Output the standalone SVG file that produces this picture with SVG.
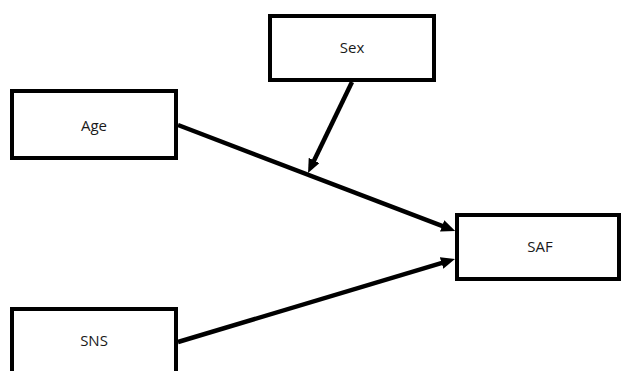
<svg xmlns="http://www.w3.org/2000/svg" width="621" height="371" viewBox="0 0 621 371">
<style>
.box{fill:#fff;stroke:#000;stroke-width:4}
.lbl{font-family:"Open Sans","Liberation Sans",sans-serif;font-size:15px;fill:#1a1a1a;text-anchor:middle}
.edge{stroke:#000;stroke-width:4.5;fill:none;marker-end:url(#ah)}
</style>
<defs>
<marker id="ah" markerUnits="userSpaceOnUse" markerWidth="14" markerHeight="12" refX="4" refY="6" orient="auto" viewBox="0 0 14 12">
<path d="M0,0 L14,6 L0,12 z" fill="#000"/>
</marker>
</defs>
<rect width="621" height="371" fill="#fff"/>
<g id="connectors">
<line class="edge" x1="178" y1="125" x2="445.9" y2="227.4"/>
<line class="edge" x1="352" y1="82" x2="312.4" y2="164"/>
<line class="edge" x1="178" y1="342" x2="445.4" y2="261.9"/>
</g>
<g id="sex"><rect class="box" x="270" y="16" width="164" height="64"/><text class="lbl" x="352" y="53">Sex</text></g>
<g id="age"><rect class="box" x="12" y="91" width="164" height="67"/><text class="lbl" x="94" y="131">Age</text></g>
<g id="saf"><rect class="box" x="457" y="215" width="162" height="64"/><text class="lbl" x="540" y="252">SAF</text></g>
<g id="sns"><rect class="box" x="12" y="309" width="164" height="70"/><text class="lbl" x="94" y="346">SNS</text></g>
</svg>
